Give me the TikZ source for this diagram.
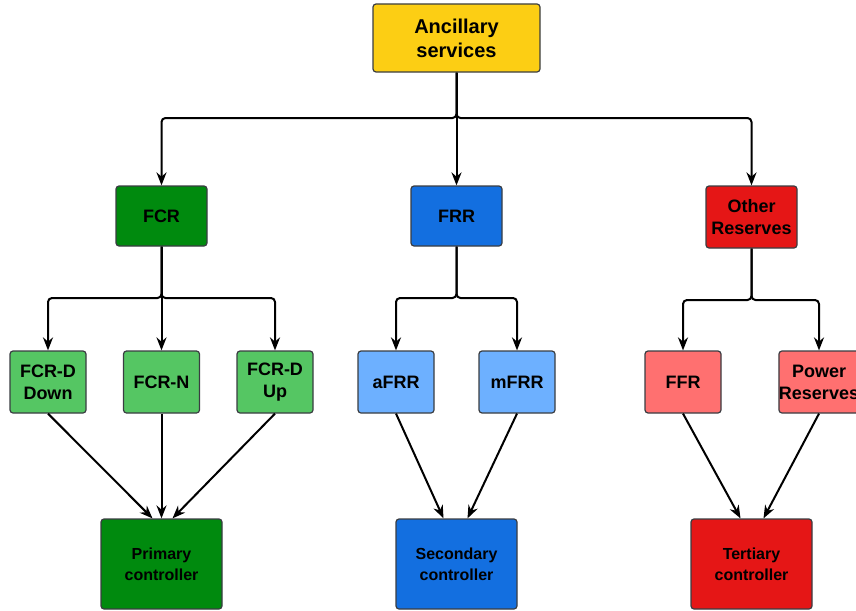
\documentclass[tikz,border=0pt]{standalone}
\usepackage{fontspec}
\setmainfont{Liberation Sans}
\usetikzlibrary{arrows.meta}
\definecolor{ancY}{HTML}{FCCE14}
\definecolor{fcrG}{HTML}{008A0E}
\definecolor{frrB}{HTML}{136FE0}
\definecolor{othR}{HTML}{E51616}
\definecolor{leafG}{HTML}{55C663}
\definecolor{leafB}{HTML}{6DB0FF}
\definecolor{leafR}{HTML}{FF7070}
\definecolor{edgeGray}{HTML}{3A3D42}
\tikzset{
  box/.style={draw=edgeGray, line width=1.2pt, rounded corners=3pt, align=center,
    font=\bfseries, inner sep=0pt},
  topbox/.style={box, fill=ancY, minimum width=167pt, minimum height=68pt,
    font=\fontsize{20}{24}\selectfont\bfseries},
  midbox/.style={box, minimum width=91pt, minimum height=60pt,
    font=\fontsize{18}{22}\selectfont\bfseries},
  leafbox/.style={box, minimum width=76pt, minimum height=62pt,
    font=\fontsize{18}{22}\selectfont\bfseries},
  ctrlbox/.style={box, minimum width=121pt, minimum height=90pt,
    font=\fontsize{16}{21}\selectfont\bfseries},
  link/.style={line width=2pt, -{Stealth[length=13pt,width=10pt]}},
  branch/.style={link, rounded corners=4pt},
}
\begin{document}
\begin{tikzpicture}[x=1pt, y=-1pt]
\useasboundingbox (0,0) rectangle (856,610);
% top level
\node[topbox] (anc) at (456.5,38) {Ancillary\\services};
% reserve groups
\node[midbox, fill=fcrG] (fcr) at (161.5,216) {FCR};
\node[midbox, fill=frrB] (frr) at (456.5,216) {FRR};
\node[midbox, fill=othR, minimum height=62pt] (oth) at (751.5,217) {Other\\Reserves};
% products
\node[leafbox, fill=leafG] (fcrdd) at (48,382) {FCR-D\\Down};
\node[leafbox, fill=leafG] (fcrn) at (161.5,382) {FCR-N};
\node[leafbox, fill=leafG] (fcrdu) at (275,382) {FCR-D\\Up};
\node[leafbox, fill=leafB] (afrr) at (396,382) {aFRR};
\node[leafbox, fill=leafB] (mfrr) at (517,382) {mFRR};
\node[leafbox, fill=leafR] (ffr) at (683,382) {FFR};
\node[leafbox, fill=leafR] (pres) at (819,382) {Power\\Reserves};
% controllers
\node[ctrlbox, fill=fcrG] (prim) at (161.5,564) {Primary\\controller};
\node[ctrlbox, fill=frrB] (sec) at (456.5,564) {Secondary\\controller};
\node[ctrlbox, fill=othR] (ter) at (751.5,564) {Tertiary\\controller};
% tree branches
\foreach \t in {fcr,frr,oth}
  \draw[branch] (anc.south) |- (456.5,118) -| (\t.north);
\foreach \t in {fcrdd,fcrn,fcrdu}
  \draw[branch] (fcr.south) |- (161.5,298) -| (\t.north);
\foreach \t in {afrr,mfrr}
  \draw[branch] (frr.south) |- (456.5,298) -| (\t.north);
\foreach \t in {ffr,pres}
  \draw[branch] (oth.south) |- (751.5,300) -| (\t.north);
% products to controllers
\draw[link] (fcrdd.south) -- ([xshift=-9pt]prim.north);
\draw[link] (fcrn.south) -- (prim.north);
\draw[link] (fcrdu.south) -- ([xshift=11pt]prim.north);
\draw[link] (afrr.south) -- ([xshift=-13pt]sec.north);
\draw[link] (mfrr.south) -- ([xshift=11pt]sec.north);
\draw[link] (ffr.south) -- ([xshift=-11pt]ter.north);
\draw[link] (pres.south) -- ([xshift=12pt]ter.north);
\end{tikzpicture}
\end{document}
